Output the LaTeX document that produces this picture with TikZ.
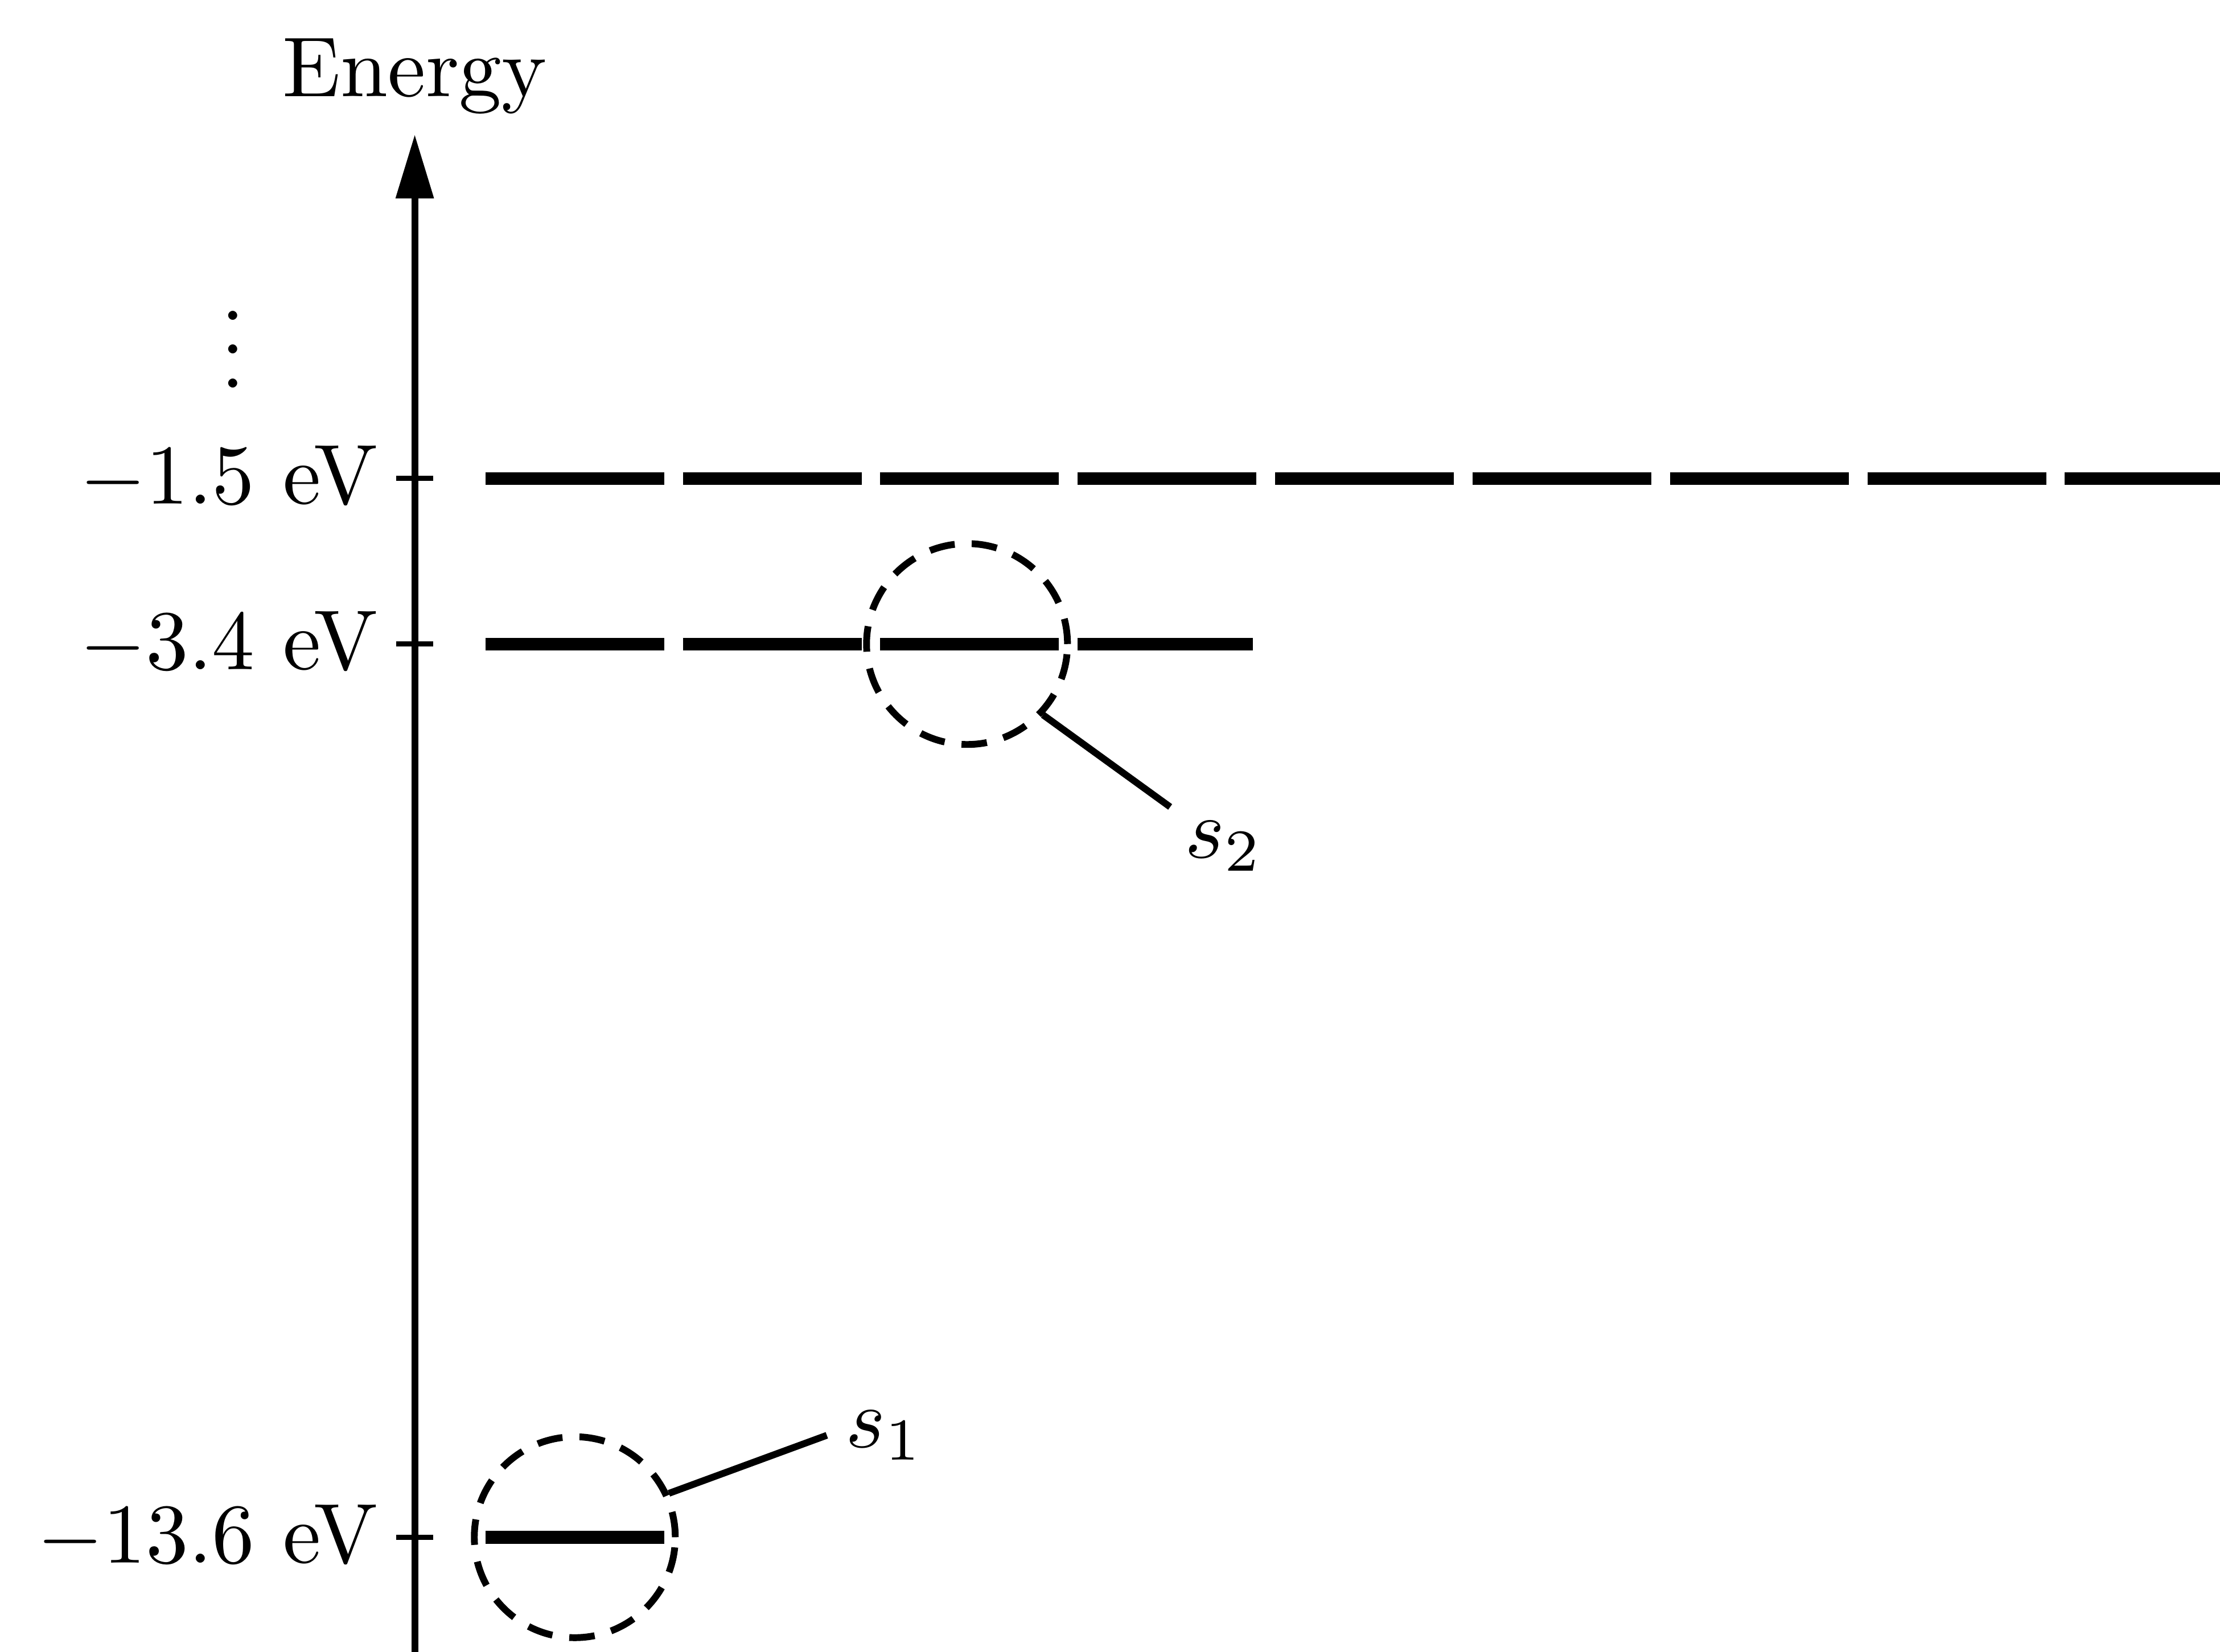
\documentclass[tikz,border=0pt]{standalone}
\usepackage{amsmath, amssymb}
\usepackage{tikz}
\usetikzlibrary{arrows.meta, calc}

\tikzset{
  level/.style={line width=1.5pt, dash pattern=on 21pt off 2.2pt},
  orbit/.style={circle, draw, line width=0.8pt, dash pattern=on 3pt off 2pt, minimum size=0.83cm, inner sep=0pt},
  leader/.style={line width=0.8pt}
}

\begin{document}
\begin{tikzpicture}[scale=1.0]
  \useasboundingbox (-1.713,0) rectangle (7.456,6.825);

  % Axis
  \draw[-{Triangle[length=7.5pt, width=4.3pt]}, line width=0.8pt] (0,0) -- (0,6.269) node[above, inner sep=2pt] (energy) {Energy};

  % Higher levels
  \node[anchor=base] (dots) at (-0.751, 5.222) {$\vdots$};

  % Energy level macro
  \newcommand{\hlevel}[4]{
    % #1: name, #2: height, #3: label, #4: end of line
    \draw[line width=0.6pt] (-0.076,#2) -- (0.076,#2);
    \node[left, inner sep=2pt] (#1) at (-0.076,#2) {#3};
    \draw[level] (0.292,#2) -- (#4,#2);
  }

  \hlevel{lvlthree}{4.848}{$-1.5$ eV}{7.456}
  \hlevel{lvltwo}{4.164}{$-3.4$ eV}{3.462}
  \hlevel{lvlone}{0.474}{$-13.6$ eV}{1.035}

  % States
  \node[orbit] (ringtwo) at (2.281,4.164) {};
  \node[orbit] (ringone) at (0.661,0.474) {};

  \node[anchor=north west, inner sep=1.5pt] (stwo) at (3.12,3.491) {$s_2$};
  \node[anchor=west, inner sep=2pt] (sone) at (1.702,0.895) {$s_1$};

  \draw[leader] (ringtwo.-43) -- (stwo.north west);
  \draw[leader] (ringone.25) -- (sone.west);

\end{tikzpicture}
\end{document}
